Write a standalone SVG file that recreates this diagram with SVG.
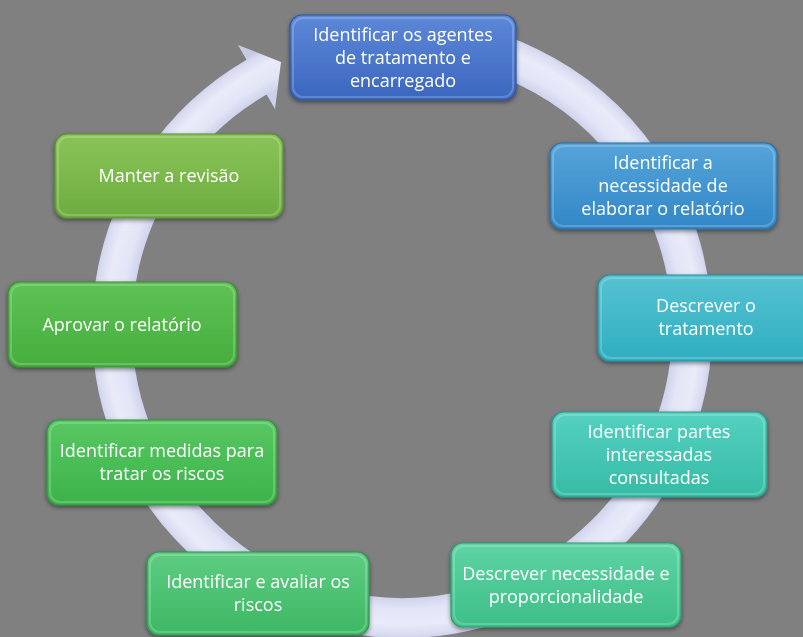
<svg xmlns="http://www.w3.org/2000/svg" width="803" height="637" viewBox="0 0 803 637">
<defs>
<style>
.lbl{font-family:"Open Sans","Noto Sans","Liberation Sans",sans-serif;font-size:18px;fill:#ffffff;text-anchor:middle}
.box{stroke-width:1.2}
.bev{fill:none;stroke:#ffffff;stroke-opacity:0.2;stroke-width:2}
</style>
<radialGradient id="ringG" gradientUnits="userSpaceOnUse" cx="402" cy="328" r="312">
<stop offset="0.86" stop-color="#ccd0ea"/>
<stop offset="0.9" stop-color="#e2e5f6"/>
<stop offset="0.95" stop-color="#e9ebf9"/>
<stop offset="0.985" stop-color="#d8dbf0"/>
<stop offset="1" stop-color="#c6cae5"/>
</radialGradient>
<filter id="sh" x="-10%" y="-10%" width="120%" height="130%">
<feDropShadow dx="0" dy="2" stdDeviation="2" flood-color="#000" flood-opacity="0.45"/>
</filter>
<linearGradient id="g1" x1="0" y1="0" x2="0" y2="1"><stop offset="0" stop-color="#5d88d8"/><stop offset="1" stop-color="#3b66bf"/></linearGradient>
<linearGradient id="g2" x1="0" y1="0" x2="0" y2="1"><stop offset="0" stop-color="#56a4da"/><stop offset="1" stop-color="#3187c6"/></linearGradient>
<linearGradient id="g3" x1="0" y1="0" x2="0" y2="1"><stop offset="0" stop-color="#56c2d2"/><stop offset="1" stop-color="#2eaec0"/></linearGradient>
<linearGradient id="g4" x1="0" y1="0" x2="0" y2="1"><stop offset="0" stop-color="#55d1c0"/><stop offset="1" stop-color="#35bba6"/></linearGradient>
<linearGradient id="g5" x1="0" y1="0" x2="0" y2="1"><stop offset="0" stop-color="#5fd3a4"/><stop offset="1" stop-color="#3dbf88"/></linearGradient>
<linearGradient id="g6" x1="0" y1="0" x2="0" y2="1"><stop offset="0" stop-color="#5ecd82"/><stop offset="1" stop-color="#3db764"/></linearGradient>
<linearGradient id="g7" x1="0" y1="0" x2="0" y2="1"><stop offset="0" stop-color="#58c762"/><stop offset="1" stop-color="#3cb34a"/></linearGradient>
<linearGradient id="g8" x1="0" y1="0" x2="0" y2="1"><stop offset="0" stop-color="#5fc255"/><stop offset="1" stop-color="#44ae3d"/></linearGradient>
<linearGradient id="g9" x1="0" y1="0" x2="0" y2="1"><stop offset="0" stop-color="#8ac458"/><stop offset="1" stop-color="#6dac40"/></linearGradient>
</defs>
<rect x="0" y="0" width="803" height="637" fill="#808080"/>
<g id="connectors">
<path d="M402 38 A290 290 0 1 1 257 76.9" fill="none" stroke="url(#ringG)" stroke-width="40"/>
<polygon points="238,45 281,62 275,109" fill="url(#ringG)"/>
</g>
<g id="n1" filter="url(#sh)">
<rect class="box" x="290" y="15" width="226" height="85" rx="12" fill="url(#g1)" stroke="#2f559e"/>
<rect class="bev" x="293" y="18" width="220" height="79" rx="10"/>
<text class="lbl" x="403" y="41">Identificar os agentes</text>
<text class="lbl" x="403" y="64">de tratamento e</text>
<text class="lbl" x="403" y="87">encarregado</text>
</g>
<g id="n2" filter="url(#sh)">
<rect class="box" x="550" y="143" width="227" height="86" rx="12" fill="url(#g2)" stroke="#2a6fa3"/>
<rect class="bev" x="553" y="146" width="221" height="80" rx="10"/>
<text class="lbl" x="663" y="169">Identificar a</text>
<text class="lbl" x="663" y="192">necessidade de</text>
<text class="lbl" x="663" y="215">elaborar o relatório</text>
</g>
<g id="n3" filter="url(#sh)">
<rect class="box" x="598" y="275" width="218" height="86" rx="12" fill="url(#g3)" stroke="#2790a0"/>
<rect class="bev" x="601" y="278" width="212" height="80" rx="10"/>
<text class="lbl" x="706" y="312">Descrever o</text>
<text class="lbl" x="706" y="335">tratamento</text>
</g>
<g id="n4" filter="url(#sh)">
<rect class="box" x="552" y="412" width="215" height="85" rx="12" fill="url(#g4)" stroke="#2a9a88"/>
<rect class="bev" x="555" y="415" width="209" height="79" rx="10"/>
<text class="lbl" x="659" y="438">Identificar partes</text>
<text class="lbl" x="659" y="461">interessadas</text>
<text class="lbl" x="659" y="484">consultadas</text>
</g>
<g id="n5" filter="url(#sh)">
<rect class="box" x="451" y="543" width="230" height="84" rx="12" fill="url(#g5)" stroke="#2f9c6e"/>
<rect class="bev" x="454" y="546" width="224" height="78" rx="10"/>
<text class="lbl" x="566" y="580">Descrever necessidade e</text>
<text class="lbl" x="566" y="603">proporcionalidade</text>
</g>
<g id="n6" filter="url(#sh)">
<rect class="box" x="147" y="552" width="222" height="83" rx="12" fill="url(#g6)" stroke="#2f9650"/>
<rect class="bev" x="150" y="555" width="216" height="77" rx="10"/>
<text class="lbl" x="258" y="588">Identificar e avaliar os</text>
<text class="lbl" x="258" y="611">riscos</text>
</g>
<g id="n7" filter="url(#sh)">
<rect class="box" x="47" y="420" width="230" height="85" rx="12" fill="url(#g7)" stroke="#2f9438"/>
<rect class="bev" x="50" y="423" width="224" height="79" rx="10"/>
<text class="lbl" x="162" y="457">Identificar medidas para</text>
<text class="lbl" x="162" y="480">tratar os riscos</text>
</g>
<g id="n8" filter="url(#sh)">
<rect class="box" x="8" y="282" width="229" height="85" rx="12" fill="url(#g8)" stroke="#368f30"/>
<rect class="bev" x="11" y="285" width="223" height="79" rx="10"/>
<text class="lbl" x="122" y="331">Aprovar o relatório</text>
</g>
<g id="n9" filter="url(#sh)">
<rect class="box" x="55" y="134" width="228" height="84" rx="12" fill="url(#g9)" stroke="#5a9032"/>
<rect class="bev" x="58" y="137" width="222" height="78" rx="10"/>
<text class="lbl" x="169" y="182">Manter a revisão</text>
</g>
</svg>
